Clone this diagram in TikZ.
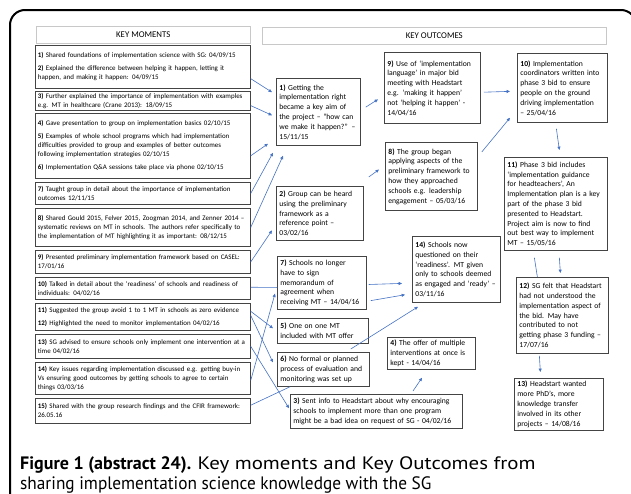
\documentclass[tikz,border=0pt]{standalone}
\usepackage{fontspec}
\setmainfont{Carlito}
\newfontfamily\capfont{PT Sans}
\usetikzlibrary{arrows.meta,calc}
\definecolor{arrowblue}{HTML}{4472C4}
\definecolor{boxgray}{HTML}{444444}
\definecolor{hdrgray}{HTML}{C8C8C8}
\begin{document}
\begin{tikzpicture}[x=1pt,y=-1pt,
  lbox/.style={draw=boxgray, line width=0.75pt, anchor=north west, inner xsep=2.5pt, inner ysep=0pt, align=left, minimum width=215pt, text width=210pt, font=\fontsize{6.95}{9}\selectfont},
  obox/.style={draw=boxgray, line width=0.75pt, anchor=north west, inner xsep=3pt, inner ysep=0pt, align=left, font=\fontsize{7.65}{9.8}\selectfont},
  hdr/.style={draw=hdrgray, line width=0.6pt, anchor=north west, inner sep=0pt, font=\fontsize{8.8}{10}\selectfont},
  conn/.style={draw=arrowblue, line width=0.6pt, -{Triangle[length=3.4pt,width=3pt]}},
  plainln/.style={draw=arrowblue, line width=0.6pt},
  capline/.style={anchor=base west, inner sep=0pt, font=\capfont\fontsize{18}{20}\selectfont},
]
\useasboundingbox (0,0) rectangle (631,493);
\begin{scope}
\clip (0,0) rectangle (631,493);
\draw[line width=2pt, rounded corners=15pt] (10,520) -- (10,10) -- (636,10) -- (636,520);
\end{scope}

% headers
\node[hdr, minimum width=214pt, minimum height=17pt] (hm) at (36,26) {KEY MOMENTS};
\node[hdr, minimum width=344pt, minimum height=17pt] (ho) at (262,27) {KEY OUTCOMES};

% key moments
\node[lbox, minimum height=43pt] (b1) at (35,45) {\textbf{1)} Shared foundations of implementation science with SG: 04/09/15\\[4pt]\textbf{2)} Explained the difference between helping it happen, letting it\\happen, and making it happen: 04/09/15};
\node[lbox, minimum height=19pt] (b3) at (35,91) {\textbf{3)} Further explained the importance of implementation with examples\\e.g. MT in healthcare (Crane 2013): 18/09/15};
\node[lbox, minimum height=65pt] (b4) at (35,113) {\textbf{4)} Gave presentation to group on implementation basics 02/10/15\\[4pt]\textbf{5)} Examples of whole school programs which had implementation\\difficulties provided to group and examples of better outcomes\\following implementation strategies 02/10/15\\[4pt]\textbf{6)} Implementation Q\&A sessions take place via phone 02/10/15};
\node[lbox, minimum height=22pt] (b7) at (35,182) {\textbf{7)} Taught group in detail about the importance of implementation\\outcomes 12/11/15};
\node[lbox, minimum height=38pt] (b8) at (35,208) {\textbf{8)} Shared Gould 2015, Felver 2015, Zoogman 2014, and Zenner 2014 –\\systematic reviews on MT in schools. The authors refer specifically to\\the implementation of MT highlighting it as important: 08/12/15};
\node[lbox, minimum height=23pt] (b9) at (35,250) {\textbf{9)} Presented preliminary implementation framework based on CASEL:\\17/01/16};
\node[lbox, minimum height=22pt] (b10) at (35,277) {\textbf{10)} Talked in detail about the ‘readiness’ of schools and readiness of\\individuals: 04/02/16};
\node[lbox, minimum height=27pt] (b11) at (35,303) {\textbf{11)} Suggested the group avoid 1 to 1 MT in schools as zero evidence\\[4pt]\textbf{12)} Highlighted the need to monitor implementation 04/02/16};
\node[lbox, minimum height=24pt] (b13) at (35,334) {\textbf{13)} SG advised to ensure schools only implement one intervention at a\\time 04/02/16};
\node[lbox, minimum height=32pt] (b14) at (35,362) {\textbf{14)} Key issues regarding implementation discussed e.g. getting buy-in\\Vs ensuring good outcomes by getting schools to agree to certain\\things 03/03/16};
\node[lbox, minimum height=25pt] (b15) at (35,398) {\textbf{15)} Shared with the group research findings and the CFIR framework:\\26.05.16};

% key outcomes
\node[obox, minimum width=84pt, text width=78pt, minimum height=67pt] (o1) at (276,78) {\mbox{\textbf{1)} Getting the}\\\mbox{implementation right}\\\mbox{became a key aim of}\\\mbox{the project – “how can}\\\mbox{we make it happen?” –}\\15/11/15};
\node[obox, minimum width=96pt, text width=90pt, minimum height=71pt] (o9) at (384,52) {\mbox{\textbf{9)} Use of ‘implementation}\\\mbox{language’ in major bid}\\\mbox{meeting with Headstart}\\\mbox{e.g. ‘making it happen’}\\\mbox{not ‘helping it happen’ -}\\14/04/16};
\node[obox, minimum width=90pt, text width=84pt, minimum height=69pt] (o10) at (517,53) {\mbox{\textbf{10)} Implementation}\\\mbox{coordinators written into}\\\mbox{phase 3 bid to ensure}\\\mbox{people on the ground}\\\mbox{driving implementation}\\– 25/04/16};
\node[obox, minimum width=92pt, text width=86pt, minimum height=68pt] (o8) at (385,142) {\mbox{\textbf{8)} The group began}\\\mbox{applying aspects of the}\\\mbox{preliminary framework to}\\\mbox{how they approached}\\\mbox{schools e.g. leadership}\\\mbox{engagement – 05/03/16}};
\node[obox, minimum width=103pt, text width=97pt, minimum height=93pt] (o11) at (504,157) {\mbox{\textbf{11)} Phase 3 bid includes}\\\mbox{‘implementation guidance}\\\mbox{for headteachers’, An}\\\mbox{Implementation plan is a key}\\\mbox{part of the phase 3 bid}\\\mbox{presented to Headstart.}\\\mbox{Project aim is now to find}\\\mbox{out best way to implement}\\\mbox{MT – 15/05/16}};
\node[obox, minimum width=87pt, text width=81pt, minimum height=54pt] (o2) at (276,186) {\mbox{\textbf{2)} Group can be heard}\\\mbox{using the preliminary}\\\mbox{framework as a}\\\mbox{reference point –}\\03/02/16};
\node[obox, minimum width=88pt, text width=82pt, minimum height=66pt] (o14) at (412,236) {\mbox{\textbf{14)} Schools now}\\\mbox{questioned on their}\\\mbox{‘readiness’. MT given}\\\mbox{only to schools deemed}\\\mbox{as engaged and ‘ready’ –}\\03/11/16};
\node[obox, minimum width=92pt, text width=86pt, minimum height=76pt] (o12) at (516,277) {\mbox{\textbf{12)} SG felt that Headstart}\\\mbox{had not understood the}\\\mbox{implementation aspect of}\\\mbox{the bid. May have}\\\mbox{contributed to not}\\\mbox{getting phase 3 funding –}\\17/07/16};
\node[obox, minimum width=89pt, text width=83pt, minimum height=53pt] (o7) at (277,256) {\mbox{\textbf{7)} Schools no longer}\\\mbox{have to sign}\\\mbox{memorandum of}\\\mbox{agreement when}\\\mbox{receiving MT – 14/04/16}};
\node[obox, minimum width=91pt, text width=85pt, minimum height=25pt] (o5) at (277,318) {\mbox{\textbf{5)} One on one MT}\\\mbox{included with MT offer}};
\node[obox, minimum width=88pt, text width=82pt, minimum height=32pt] (o4) at (387,337) {\mbox{\textbf{4)} The offer of multiple}\\\mbox{interventions at once is}\\\mbox{kept - 14/04/16}};
\node[obox, minimum width=92pt, text width=86pt, minimum height=34pt] (o6) at (277,352) {\mbox{\textbf{6)} No formal or planned}\\\mbox{process of evaluation and}\\\mbox{monitoring was set up}};
\node[obox, minimum width=172pt, text width=166pt, minimum height=34pt] (o3) at (290,394) {\mbox{\textbf{3)} Sent info to Headstart about why encouraging}\\\mbox{schools to implement more than one program}\\\mbox{might be a bad idea on request of SG - 04/02/16}};
\node[obox, minimum width=89pt, text width=83pt, minimum height=52pt] (o13) at (514,378) {\mbox{\textbf{13)} Headstart wanted}\\\mbox{more PhD’s, more}\\\mbox{knowledge transfer}\\\mbox{involved in its other}\\\mbox{projects – 14/08/16}};

% connectors: key moments -> outcomes
\draw[conn] ($(b1.north east)!0.77!(b1.south east)$) -- ($(o1.north west)!0.21!(o1.south west)+(-4,0)$);
\draw[conn] ($(b3.north east)!0.74!(b3.south east)$) -- ($(o1.north west)!0.55!(o1.south west)+(-4,0)$);
\draw[conn] ($(b4.north east)!0.65!(b4.south east)$) -- ($(o1.south west)+(-8,-2)$);
\draw[conn] ($(b7.north east)!0.5!(b7.south east)$) -- ($(o1.south west)+(-3,7)$);
\draw[conn] ($(b8.north east)!0.5!(b8.south east)$) -- ($(o1.south west)+(7,10)$);
\draw[conn] ($(b9.north east)!0.5!(b9.south east)$) -- ($(o2.north west)!0.81!(o2.south west)+(-4,0)$);
\draw[plainln] ($(b10.north east)!0.45!(b10.south east)$) -- ($(o7.north west)!0.585!(o7.south west)$);
\draw[conn] ($(b11.north east)!0.3!(b11.south east)$) -- ($(o5.north west)!0.4!(o5.south west)+(-4,0)$);
\draw[conn] ($(b11.north east)!0.45!(b11.south east)$) -- ($(o6.north west)!0.3!(o6.south west)+(-4,0)$);
\draw[conn] ($(b13.north east)!0.5!(b13.south east)$) -- ($(o3.north west)!0.41!(o3.south west)+(-1,0)$);
\draw[conn] ($(b14.north east)!0.56!(b14.south east)$) -- ($(o7.north west)!0.7!(o7.south west)+(-2,0)$);
\draw[plainln] ($(b15.north east)!0.28!(b15.south east)$) -- ($(o6.south west)+(13,0)$);

% connectors among outcomes
\draw[conn] ($(o1.north east)!0.43!(o1.south east)+(5,0)$) -- ($(o9.north west)!0.66!(o9.south west)+(-6,0)$);
\draw[conn] ($(o2.north east)+(5,-9)$) -- ($(o8.north west)!0.4!(o8.south west)+(-6,0)$);
\draw[conn] ($(o9.north east)!0.56!(o9.south east)+(3,0)$) -- ($(o10.north west)!0.55!(o10.south west)+(-7,0)$);
\draw[conn] ($(o8.north east)+(4,10)$) -- ($(o10.south west)+(-7,-5)$);
\draw[conn] ($(o10.south)+(-6,6)$) -- ($(o11.north)+(3.5,-7)$);
\draw[conn] ($(o11.south)+(3.5,7)$) -- ($(o12.north)+(-2,-4)$);
\draw[plainln] ($(o11.south)+(-21.5,7)$) -- ($(o12.north)+(-25,0)$);
\draw[conn] ($(o12.south)+(-23,2)$) -- ($(o13.north)+(-18.5,-6)$);
\draw[conn] ($(o7.north east)!0.53!(o7.south east)+(2,0)$) -- ($(o14.north west)!0.71!(o14.south west)+(-10,0)$);
\draw[conn] ($(o7.north east)!0.83!(o7.south east)+(4,0)$) -- ($(o14.north west)!0.88!(o14.south west)+(-7,0)$);
\draw[conn] ($(o6.north east)+(-19,-3)$) -- ($(o14.south west)+(6,4)$);
\draw[conn] ($(o3.north west)+(123,-3)$) -- ($(o4.south west)+(35,8)$);

% caption
\node[capline] (cap1) at (20,469) {\textbf{Figure 1 (abstract 24).} \scalebox{1.16}[1]{Key moments and Key Outcomes from}};
\node[capline] (cap2) at (20,489) {\scalebox{0.96}[1]{sharing implementation science knowledge with the SG}};
\end{tikzpicture}
\end{document}
